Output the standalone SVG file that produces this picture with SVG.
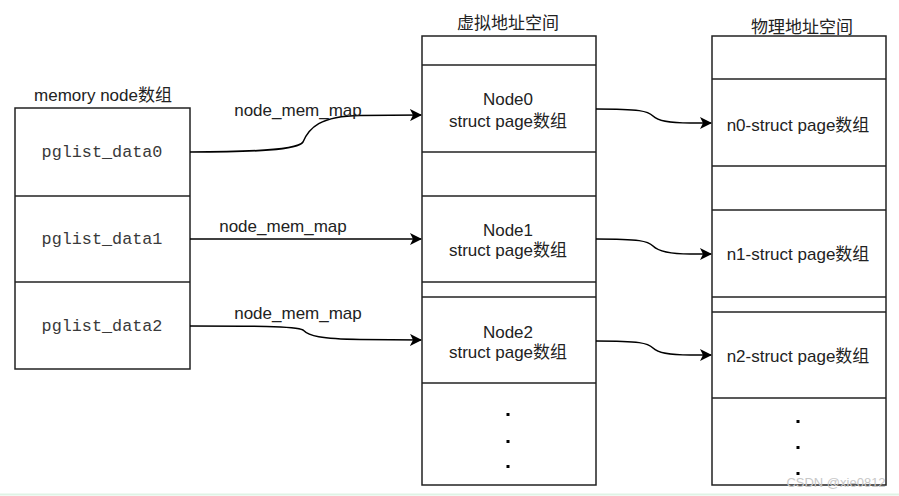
<svg xmlns="http://www.w3.org/2000/svg" width="899" height="496" viewBox="0 0 899 496">
<style>
.box{fill:#fff;stroke:#222;stroke-width:1.5}
.div{stroke:#222;stroke-width:1.5}
.t{font-family:"Liberation Sans",Arial,"Noto Sans CJK SC",sans-serif;font-size:17px;fill:#222;text-anchor:middle}
.mono{font-family:"Liberation Mono","Courier New",monospace;font-size:16.8px;fill:#3a3a3a;text-anchor:middle}
.edge{fill:none;stroke:#000;stroke-width:1.5;marker-end:url(#arr)}
.dot{fill:#000}
</style>
<defs>
<marker id="arr" markerUnits="userSpaceOnUse" markerWidth="12" markerHeight="12" refX="11" refY="6" orient="auto" viewBox="0 0 12 12">
<path d="M0,0 L12,6 L0,12 L3,6 z" fill="#000"/>
</marker>
</defs>
<rect width="899" height="496" fill="#fff"/>
<line x1="0" y1="494.5" x2="899" y2="494.5" stroke="#dff3e5" stroke-width="2"/>

<g id="memory-node-array">
<text class="t" x="103" y="101">memory node数组</text>
<rect class="box" x="15" y="108" width="175" height="261"/>
<line class="div" x1="15" y1="196" x2="190" y2="196"/>
<line class="div" x1="15" y1="282" x2="190" y2="282"/>
<text class="mono" x="102" y="157">pglist_data0</text>
<text class="mono" x="102" y="244">pglist_data1</text>
<text class="mono" x="102" y="331">pglist_data2</text>
</g>

<g id="virtual-address-space">
<text class="t" x="508" y="29">虚拟地址空间</text>
<rect class="box" x="422" y="36" width="174" height="449"/>
<line class="div" x1="422" y1="65" x2="596" y2="65"/>
<line class="div" x1="422" y1="152" x2="596" y2="152"/>
<line class="div" x1="422" y1="196" x2="596" y2="196"/>
<line class="div" x1="422" y1="282" x2="596" y2="282"/>
<line class="div" x1="422" y1="297" x2="596" y2="297"/>
<line class="div" x1="422" y1="383" x2="596" y2="383"/>
<text class="t" x="508" y="105">Node0</text>
<text class="t" x="508" y="127">struct page数组</text>
<text class="t" x="508" y="236">Node1</text>
<text class="t" x="508" y="256">struct page数组</text>
<text class="t" x="508" y="338">Node2</text>
<text class="t" x="508" y="358">struct page数组</text>
<rect class="dot" x="506.5" y="413" width="3" height="3"/>
<rect class="dot" x="506.5" y="440" width="3" height="3"/>
<rect class="dot" x="506.5" y="465" width="3" height="3"/>
</g>

<g id="physical-address-space">
<text class="t" x="802" y="33">物理地址空间</text>
<rect class="box" x="712" y="36" width="174" height="449"/>
<line class="div" x1="712" y1="79" x2="886" y2="79"/>
<line class="div" x1="712" y1="166" x2="886" y2="166"/>
<line class="div" x1="712" y1="210" x2="886" y2="210"/>
<line class="div" x1="712" y1="297" x2="886" y2="297"/>
<line class="div" x1="712" y1="312" x2="886" y2="312"/>
<line class="div" x1="712" y1="398" x2="886" y2="398"/>
<text class="t" x="798" y="131">n0-struct page数组</text>
<text class="t" x="798" y="260">n1-struct page数组</text>
<text class="t" x="798" y="362">n2-struct page数组</text>
<rect class="dot" x="796.5" y="420" width="3" height="3"/>
<rect class="dot" x="796.5" y="446" width="3" height="3"/>
<rect class="dot" x="796.5" y="472" width="3" height="3"/>
</g>

<g id="connectors">
<path class="edge" d="M190,152 C255,152 298,150 303,142 C309,128 320,116 360,115.5 L421,115"/>
<text class="t" x="298" y="116">node_mem_map</text>
<path class="edge" d="M190,239 L421,239"/>
<text class="t" x="283" y="232">node_mem_map</text>
<path class="edge" d="M190,326 C250,326 296,326 303,330 C309,336 320,339 360,339.5 L421,340"/>
<text class="t" x="298" y="319">node_mem_map</text>
<path class="edge" d="M596,109 C640,109 648,111 653,116 C658,121 668,123 690,123 L711,123"/>
<path class="edge" d="M596,239 C640,239 648,241 653,246 C658,251 668,254 690,254 L711,254"/>
<path class="edge" d="M596,341 C640,341 648,343 653,348 C658,353 668,355 690,355 L711,355"/>
</g>

<text x="836" y="487" font-family="Liberation Sans,Arial,sans-serif" font-size="13" fill="#c8c8c8" text-anchor="middle">CSDN @xie0812</text>
</svg>
